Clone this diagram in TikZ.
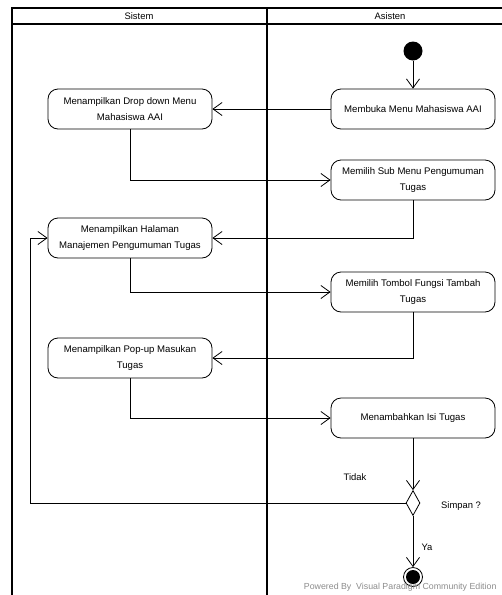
\documentclass[tikz,border=0pt]{standalone}
\usepackage{fontspec}
\setmainfont{Liberation Sans}
\usetikzlibrary{arrows.meta,shapes.geometric}
\begin{document}
\begin{tikzpicture}[x=1pt,y=-1pt,
  act/.style={draw,rounded corners=10pt,minimum width=164pt,minimum height=40pt,
    align=center,font=\fontsize{9.6}{15.5}\selectfont,inner sep=2pt,line width=0.8pt},
  flow/.style={draw,line width=0.8pt,-{Straight Barb[length=9pt,width=13pt]}},
  lane/.style={line width=1.6pt},
  lbl/.style={font=\fontsize{9.4}{11}\selectfont},
]
\useasboundingbox (0,0) rectangle (502,595);
% swimlane frame
\draw[lane] (12,595) -- (12,8) -- (510,8);
\draw[lane] (12,24) -- (510,24);
\draw[lane] (267,8) -- (267,595);
\node[lbl] (hsis) at (139,16.5) {Sistem};
\node[lbl] (hasi) at (390,16.5) {Asisten};
% nodes
\node[circle,fill,minimum size=19pt,inner sep=0] (init) at (413,51) {};
\node[act] (membuka) at (413,109) {Membuka Menu Mahasiswa AAI};
\node[act] (drop) at (130,109) {Menampilkan Drop down Menu\\Mahasiswa AAI};
\node[act] (sub) at (413,180) {Memilih Sub Menu Pengumuman\\Tugas};
\node[act] (hal) at (130,238) {Menampilkan Halaman\\Manajemen Pengumuman Tugas};
\node[act] (tombol) at (413,292) {Memilih Tombol Fungsi Tambah\\Tugas};
\node[act] (popup) at (130,358) {Menampilkan Pop-up Masukan\\Tugas};
\node[act] (isi) at (413,418) {Menambahkan Isi Tugas};
\node[diamond,draw,line width=0.8pt,minimum width=14pt,minimum height=25pt,inner sep=0] (dec) at (413,503) {};
\node[circle,draw,line width=0.8pt,minimum size=19pt,inner sep=0] (final) at (413,577) {};
\fill (final.center) circle (7pt);
\coordinate (lp) at (30,503);
% connectors
\draw[flow] (init) -- (membuka.north);
\draw[flow] (membuka.west) -- (drop.east);
\draw[flow] (drop.south) |- (sub.west);
\draw[flow] (sub.south) |- (hal.east);
\draw[flow] (hal.south) |- (tombol.west);
\draw[flow] (tombol.south) |- (popup.east);
\draw[flow] (popup.south) |- (isi.west);
\draw[flow] (isi.south) -- (dec.north);
\draw[flow] (dec.west) -- (lp) |- (hal.west);
\draw[flow] (dec.south) -- (final.north);
% labels
\node[lbl] (ltidak) at (355,477) {Tidak};
\node[lbl] (lsimpan) at (461,506) {Simpan ?};
\node[lbl] (lya) at (427,547) {Ya};
\node[lbl,anchor=east,text=black!45,font=\fontsize{8.8}{10}\selectfont] (wm) at (500,587) {Powered By\ \ Visual Paradigm Community Edition};
\end{tikzpicture}
\end{document}
